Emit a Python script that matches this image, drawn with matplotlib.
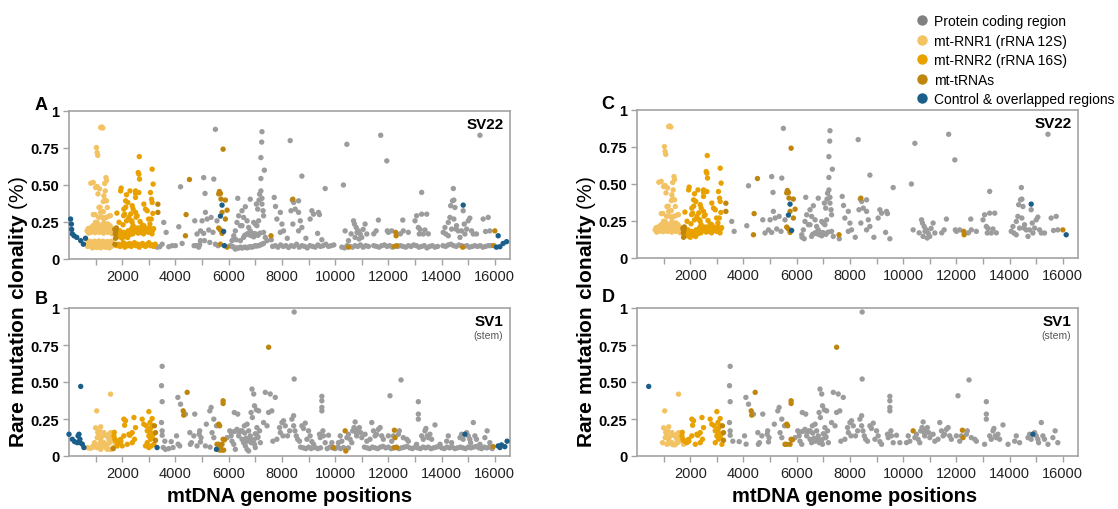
import matplotlib
matplotlib.use('Agg')
import matplotlib.pyplot as plt
from matplotlib.lines import Line2D

plt.rcParams['font.family'] = ['Liberation Sans', 'DejaVu Sans']
plt.rcParams['mathtext.fontset'] = 'custom'
plt.rcParams['mathtext.rm'] = 'Liberation Sans'
plt.rcParams['mathtext.bf'] = 'Liberation Sans:bold'

# ---------------- data ----------------
CATEGORIES = ['Protein coding region', 'mt-RNR1 (rRNA 12S)', 'mt-RNR2 (rRNA 16S)',
              'mt-tRNAs', 'Control & overlapped regions']
COLORS = ['#9c9c9c', '#F3C262', '#E9A100', '#BF850C', '#1B5E8A']

GENOME_LENGTH = 16569
C_MIN_CLONALITY = 0.128   # panel C shows SV22 mutations above this clonality
D_MIN_CLONALITY = 0.07    # panel D shows SV1 mutations above this clonality
C_X_RANGE = (640, 16300)
D_X_RANGE = (430, 16300)

# ---- SV22 (panel A) ----
A_ctrl_x = [60, 90, 100, 125, 190, 290, 440, 540, 620, 5690, 5750, 5810, 5840, 14810, 16125, 16060, 16190, 16310, 16440]
A_ctrl_y = [0.27, 0.236, 0.20, 0.17, 0.157, 0.146, 0.124, 0.10, 0.14, 0.29, 0.364, 0.186, 0.09, 0.364, 0.157, 0.08, 0.083, 0.105, 0.117]

A_rnr1_x = [1190, 1230, 1270, 1030, 1055, 1080, 820, 910, 1000, 1054, 1148, 1090,
            1390, 1410, 1340, 1360, 1310, 1288, 1347, 1410, 913, 1125, 1171, 1190, 1288, 1440,
            1112, 1250, 1375, 1405, 1500, 1557, 995, 1060, 1171, 1310, 1464, 975,
            680, 720, 760, 800, 840, 880, 920, 960, 1000, 1040, 1080, 1120, 1160, 1200, 1240, 1280,
            1320, 1360, 1400, 1440, 1480, 1520, 1560, 1600, 1640,
            740, 820, 900, 980, 1060, 1140, 1220, 1300, 1380, 1460, 1540, 1620,
            660, 700, 740, 780, 820, 860, 900, 940, 980, 1020, 1060, 1100, 1140, 1180, 1220, 1260,
            1300, 1340, 1380, 1420, 1460, 1500, 1540, 1580, 1620, 1660,
            720, 800, 880, 960, 1040, 1120, 1200, 1280, 1360, 1440, 1520, 1600]
A_rnr1_y = [0.888, 0.892, 0.885, 0.753, 0.72, 0.70, 0.512, 0.517, 0.483, 0.49, 0.474, 0.44,
            0.55, 0.53, 0.51, 0.46, 0.427, 0.388, 0.40, 0.393, 0.30, 0.348, 0.35, 0.315, 0.32, 0.348,
            0.282, 0.28, 0.28, 0.282, 0.29, 0.293, 0.248, 0.247, 0.226, 0.247, 0.237, 0.30,
            0.19, 0.205, 0.195, 0.21, 0.20, 0.215, 0.19, 0.205, 0.21, 0.195, 0.22, 0.205, 0.19, 0.215, 0.20, 0.21,
            0.195, 0.22, 0.205, 0.19, 0.21, 0.20, 0.195, 0.21, 0.19,
            0.175, 0.18, 0.225, 0.178, 0.23, 0.18, 0.228, 0.175, 0.232, 0.18, 0.225, 0.17,
            0.10, 0.085, 0.11, 0.09, 0.105, 0.08, 0.115, 0.095, 0.085, 0.11, 0.09, 0.10, 0.08, 0.115, 0.095, 0.085,
            0.105, 0.09, 0.11, 0.08, 0.10, 0.09, 0.115, 0.085, 0.10, 0.09,
            0.12, 0.118, 0.075, 0.12, 0.078, 0.122, 0.076, 0.12, 0.08, 0.118, 0.075, 0.12]

A_rnr2_x = [1960, 1940, 2160, 2290, 2125, 2210, 2060, 2090, 2250, 2160, 2030, 1910, 1975, 2375, 2500,
            2500, 2500, 2600, 2625, 2650, 2640, 2625, 2410, 2500, 2560, 2350, 2410, 2810, 2875, 2940,
            3060, 3125, 3160, 3100, 3125, 3150, 3090, 3040, 2810,
            1800, 1880, 2050, 2130, 2320, 2370, 2520, 2670, 2750, 2990,
            1820, 1900, 1980, 2060, 2140, 2220, 2300, 2340, 2380, 2420, 2460, 2500, 2540, 2580, 2620,
            2660, 2700, 2740, 2780, 2820, 2860, 2900, 2940, 2980, 3020, 3060, 3100, 3140, 3180,
            2000, 2100, 2200, 2300, 2400, 2600, 2800, 3000, 3120,
            1800, 1860, 1920, 1980, 2040, 2100, 2160, 2220, 2280, 2340, 2400, 2460, 2520, 2580, 2640,
            2700, 2760, 2820, 2880, 2940, 3000, 3060, 3120, 3180, 3240]
A_rnr2_y = [0.479, 0.46, 0.434, 0.46, 0.393, 0.382, 0.337, 0.303, 0.281, 0.258, 0.231, 0.191, 0.157, 0.36, 0.46,
            0.443, 0.416, 0.584, 0.573, 0.54, 0.692, 0.449, 0.337, 0.315, 0.292, 0.258, 0.225, 0.371, 0.337, 0.326,
            0.449, 0.607, 0.506, 0.404, 0.382, 0.308, 0.27, 0.236, 0.225,
            0.31, 0.248, 0.293, 0.35, 0.305, 0.248, 0.282, 0.253, 0.23, 0.27,
            0.16, 0.15, 0.17, 0.18, 0.16, 0.19, 0.185, 0.2, 0.21, 0.19, 0.205, 0.2, 0.185, 0.21, 0.195,
            0.2, 0.18, 0.215, 0.19, 0.2, 0.21, 0.195, 0.185, 0.2, 0.21, 0.19, 0.2, 0.195, 0.205,
            0.14, 0.155, 0.145, 0.165, 0.17, 0.175, 0.17, 0.18, 0.17,
            0.09, 0.1, 0.085, 0.095, 0.11, 0.08, 0.1, 0.09, 0.105, 0.085, 0.095, 0.11, 0.09, 0.1, 0.08,
            0.095, 0.105, 0.09, 0.085, 0.1, 0.11, 0.09, 0.095, 0.085, 0.1]

A_trna_x = [1720, 1740, 1760, 1780, 1725, 1750, 3340, 3340, 4375, 4400, 4525, 5650, 5690, 5625, 5710,
            5750, 5625, 5690, 5750, 5875, 5940, 5875, 5790, 5940, 5690, 7590, 8410, 10500, 12275, 12290,
            12310, 12225, 14790, 16000, 15960]
A_trna_y = [0.2, 0.17, 0.19, 0.21, 0.10, 0.14, 0.37, 0.315, 0.157, 0.30, 0.537, 0.456, 0.443, 0.44, 0.405,
            0.315, 0.209, 0.196, 0.173, 0.398, 0.33, 0.27, 0.742, 0.08, 0.10, 0.157, 0.404, 0.08, 0.18, 0.157,
            0.09, 0.085, 0.08, 0.19, 0.09]

A_prot_x = [3560, 3650, 4125, 4190, 4250, 4725, 4810, 4940, 5000, 5060, 5110, 5125, 5190, 5250, 5290,
            5340, 5440, 5500, 5560, 5410, 5060, 5090, 4940, 3500,
            6125, 6190, 6250, 6310, 6375, 6340, 6440, 6500, 6625, 6560, 6690, 6750, 6810, 6875, 6940,
            6810, 6940, 7000, 7060, 7125, 7040, 7090, 7140, 7160, 7210, 7250, 7250, 7290, 7310, 7310,
            7375, 7440, 7210, 7210, 7240, 7250, 7340, 6690, 6560, 6440, 6500, 6200, 6280, 6600, 6720,
            6900, 7000, 6760, 6840, 6960, 7040, 7100, 7180,
            7710, 7760, 7810, 7940, 8000, 7940, 8060, 8310, 8390, 8440, 8500, 8410, 8340, 8625, 8625,
            8690, 8750, 8625, 8750, 9125, 9190, 9060, 9375, 9410, 9340, 9625, 7600, 8200, 8900, 9500,
            10310, 10440, 10375, 10690, 10725, 10790, 10875, 10940, 11000, 11125, 11190, 10500, 10750,
            10900, 10600, 10820, 11050,
            11540, 11625, 11710, 11940, 11960, 12000, 12125, 12540, 12560, 12750, 11450, 12450,
            13000, 13060, 13125, 13190, 13160, 13250, 13250, 13375, 13440, 13310, 14125, 14160, 14250,
            14310, 14340, 14410, 14460, 14440, 14500, 14460, 14540, 14560, 14625, 14690, 14750, 14810,
            14850, 14875, 14940, 15000, 15060, 15125, 15190, 15440, 15560, 15650, 15750, 15810, 15310,
            14250, 14375, 14060, 13500,
            3310, 3410, 3750, 3875, 4000, 4700, 4790, 4875, 4910, 5500, 5600,
            6060, 6130, 6190, 6250, 6310, 6375, 6440, 6500, 6560, 6625, 6690, 6750, 6810, 6875, 6940,
            7000, 7060, 7125, 7190, 7250, 7310,
            7650, 7750, 7850, 7950, 8050, 8150, 8250, 8350, 8450, 8550, 8650, 8750, 8850, 8950, 9050,
            9150, 9250, 9350, 9450, 9550, 9650, 9750, 9850, 9950,
            10250, 10350, 10450, 10550, 10650, 10750, 10850, 10950, 11050, 11150, 11250,
            11450, 11550, 11650, 11750, 11850, 11950, 12050, 12150, 12350, 12450, 12550, 12650, 12750,
            12850, 12950, 13050, 13150, 13250, 13350, 13450, 13550, 13650, 13750, 13850,
            14050, 14150, 14250, 14350, 14450, 14550, 14650, 14750, 14850, 14950, 15050, 15150, 15250,
            15350, 15450, 15550, 15650, 15750, 15850]
A_prot_y = [0.247, 0.18, 0.218, 0.488, 0.105, 0.258, 0.169, 0.19, 0.258, 0.55, 0.443, 0.315, 0.27, 0.196, 0.112,
            0.281, 0.54, 0.876, 0.258, 0.18, 0.173, 0.124, 0.124, 0.10,
            0.124, 0.157, 0.19, 0.247, 0.292, 0.41, 0.225, 0.326, 0.353, 0.281, 0.258, 0.213, 0.19, 0.169, 0.15,
            0.404, 0.247, 0.236, 0.225, 0.258, 0.371, 0.337, 0.398, 0.438, 0.46, 0.41, 0.371, 0.326, 0.292, 0.18,
            0.146, 0.124, 0.544, 0.685, 0.79, 0.86, 0.60, 0.169, 0.146, 0.124, 0.225, 0.14, 0.13, 0.16, 0.17,
            0.16, 0.17, 0.165, 0.158, 0.172, 0.165, 0.16, 0.175,
            0.416, 0.355, 0.27, 0.315, 0.236, 0.18, 0.19, 0.80, 0.398, 0.382, 0.337, 0.236, 0.326, 0.393, 0.315,
            0.258, 0.213, 0.19, 0.56, 0.326, 0.303, 0.27, 0.315, 0.30, 0.173, 0.476, 0.13, 0.14, 0.14, 0.13,
            0.50, 0.775, 0.19, 0.258, 0.236, 0.213, 0.19, 0.169, 0.146, 0.236, 0.169, 0.124, 0.146,
            0.135, 0.17, 0.18, 0.2,
            0.19, 0.263, 0.836, 0.663, 0.19, 0.18, 0.19, 0.263, 0.19, 0.18, 0.17, 0.17,
            0.258, 0.292, 0.213, 0.20, 0.169, 0.45, 0.303, 0.196, 0.303, 0.169, 0.213, 0.169, 0.247,
            0.281, 0.36, 0.393, 0.398, 0.476, 0.348, 0.27, 0.202, 0.225, 0.19, 0.146, 0.19, 0.326,
            0.236, 0.169, 0.202, 0.258, 0.276, 0.19, 0.169, 0.836, 0.27, 0.186, 0.281, 0.19, 0.169,
            0.157, 0.202, 0.18, 0.17,
            0.08, 0.083, 0.083, 0.09, 0.09, 0.09, 0.09, 0.08, 0.097, 0.10, 0.09,
            0.09, 0.085, 0.08, 0.067, 0.075, 0.074, 0.08, 0.074, 0.078, 0.08, 0.075, 0.08, 0.083, 0.08, 0.085,
            0.09, 0.088, 0.09, 0.095, 0.10, 0.105,
            0.085, 0.09, 0.08, 0.095, 0.085, 0.09, 0.078, 0.09, 0.085, 0.1, 0.08, 0.09, 0.085, 0.075, 0.09,
            0.085, 0.08, 0.095, 0.085, 0.09, 0.1, 0.085, 0.09, 0.095,
            0.08, 0.075, 0.09, 0.085, 0.08, 0.09, 0.085, 0.095, 0.08, 0.09, 0.085,
            0.09, 0.085, 0.08, 0.09, 0.095, 0.085, 0.09, 0.08, 0.085, 0.09, 0.085, 0.08, 0.09,
            0.085, 0.095, 0.09, 0.08, 0.085, 0.09, 0.075, 0.085, 0.09, 0.08, 0.085,
            0.09, 0.085, 0.095, 0.1, 0.09, 0.085, 0.095, 0.09, 0.085, 0.09, 0.08, 0.085, 0.09,
            0.085, 0.09, 0.08, 0.085, 0.09, 0.09]

# control-region points kept in the filtered SV22 view (panel C)
C_ctrl_x = [5690, 5750, 5810, 14810, 16125]
C_ctrl_y = [0.29, 0.364, 0.186, 0.364, 0.157]

# ---- SV1 stem (panel B) ----
B_ctrl_x = [0, 125, 210, 310, 340, 375, 410, 420, 500, 560, 440, 3310, 5540, 14875, 16125, 16190, 16250, 16375, 16460]
B_ctrl_y = [0.147, 0.113, 0.097, 0.09, 0.136, 0.147, 0.113, 0.09, 0.08, 0.057, 0.47, 0.057, 0.045, 0.147, 0.068, 0.057, 0.075, 0.063, 0.10]

B_rnr1_x = [690, 790, 875, 1040, 1190, 1150, 1060, 960, 910, 1560, 1310, 1410, 1500, 1250, 1190,
            1125, 1250, 1375, 1440, 1560, 1660, 1750, 1690, 1625, 1560, 1500, 1310, 1040, 1190,
            1000, 1080, 1120, 1200, 1280, 1340, 1400, 1450, 1520, 1600, 1230, 1350]
B_rnr1_y = [0.057, 0.052, 0.057, 0.305, 0.197, 0.17, 0.124, 0.09, 0.068, 0.418, 0.158, 0.136, 0.113, 0.136, 0.113,
            0.079, 0.068, 0.057, 0.045, 0.045, 0.057, 0.079, 0.10, 0.124, 0.158, 0.147, 0.09, 0.057, 0.045,
            0.19, 0.16, 0.14, 0.10, 0.09, 0.08, 0.075, 0.08, 0.09, 0.11, 0.085, 0.078]

B_rnr2_x = [1810, 1875, 1940, 2060, 2090, 2060, 2125, 2250, 2375, 2440, 2500, 2460, 2375, 2190, 2000,
            1690, 1725, 1790, 2750, 2810, 2900, 3000, 2940, 3000, 3060, 3125, 3125, 3060, 3160, 2940,
            3000, 3090, 3190, 2875, 3040, 3060, 3125,
            1700, 1760, 1850, 1900, 1950, 2280, 2300]
B_rnr2_y = [0.068, 0.09, 0.113, 0.136, 0.208, 0.249, 0.238, 0.147, 0.158, 0.26, 0.192, 0.113, 0.09, 0.079, 0.068,
            0.136, 0.113, 0.10, 0.249, 0.215, 0.204, 0.30, 0.17, 0.136, 0.113, 0.253, 0.204, 0.186, 0.147, 0.09,
            0.057, 0.068, 0.079, 0.068, 0.226, 0.158, 0.124,
            0.16, 0.105, 0.1, 0.105, 0.1, 0.14, 0.145]

B_trna_x = [1660, 3210, 3250, 4290, 4310, 4440, 5625, 5660, 5790, 5790, 5560, 5625, 5690, 5750, 5790,
            5840, 5660, 5750, 5810, 7500, 9940, 10375, 10400, 12225, 12250, 12225, 12310, 15940, 3250]
B_trna_y = [0.05, 0.204, 0.158, 0.305, 0.276, 0.43, 0.215, 0.204, 0.373, 0.355, 0.079, 0.079, 0.068, 0.079, 0.113,
            0.109, 0.04, 0.04, 0.04, 0.735, 0.057, 0.17, 0.034, 0.174, 0.124, 0.057, 0.057, 0.063, 0.106]

B_prot_x = [3500, 3475, 3500, 3475, 3500, 3500, 3840, 4040, 4090, 4190, 4375, 4540, 4560, 4690, 4725,
            4890, 4910, 4960, 4940, 5160, 5290, 5340, 5375, 5440, 5540, 5440, 3600, 4100, 4600,
            5940, 6040, 6090, 6125, 6190, 6210, 6310, 6340, 6440, 6375, 6500, 6560, 6625, 6590, 6690,
            6750, 6810, 6840, 6875, 6940, 6890, 6910, 6970, 7040, 7060, 7090, 6970, 7040, 7125, 7160,
            7190, 7310, 7375, 7440, 7500, 7560, 7620, 7660, 7750, 7810, 7910, 7940, 6100, 6200, 6300,
            6400, 6500, 6600, 6650, 6700, 6800, 6850, 6950, 7000, 7100,
            8000, 8060, 8125, 8040, 8210, 8290, 8375, 8440, 8460, 8460, 8440, 8490, 8540, 8590, 8660,
            8750, 8810, 8875, 8940, 9000, 9060, 9125, 9190, 9410, 9440, 9500, 9500, 9500, 9500, 9540,
            9560, 9625, 9750, 9875, 10125, 10190, 10250,
            10440, 10500, 10560, 10625, 10660, 10710, 10750, 10790, 10810, 10850, 10910, 10960, 11000,
            11125, 11190, 11310, 11375, 11440, 11500, 11560, 11625, 11690, 11750, 11810, 12000, 12060,
            12125, 12190, 12375, 12410, 12475, 12560, 12690, 12750, 13060, 13125, 13125, 13125, 13250,
            13310, 13375, 13410, 13460, 13500, 13560, 13625, 13750, 13940, 14190, 14250, 14375, 14690,
            14750, 14810, 14940, 15000, 15060, 15090, 15190, 15250, 15310, 15440, 15625, 15710, 15810,
            3540, 3625, 3750, 3910, 4160, 4810, 5125, 5300,
            6250, 6690, 6750, 7000,
            8700, 8800, 8900, 9000, 9100, 9250, 9350, 9450, 9700, 9800, 9900, 10000, 10100, 10200, 10310,
            10400, 10500,
            11100, 11200, 11300, 11400, 11500, 11600, 11700, 11800, 11900, 12000, 12100, 12200, 12300,
            12400, 12500, 12600, 12700, 12800, 12900, 13000, 13100, 13200, 13300, 13400, 13500, 13600,
            13700, 13800, 13900, 14000, 14100, 14200, 14300, 14400, 14500, 14600, 14700, 14800, 14900,
            15000, 15100, 15200, 15300, 15400, 15500, 15600, 15700, 15800, 15900]
B_prot_y = [0.606, 0.475, 0.367, 0.226, 0.17, 0.14, 0.097, 0.136, 0.396, 0.35, 0.283, 0.158, 0.079, 0.136, 0.283,
            0.147, 0.17, 0.124, 0.095, 0.215, 0.305, 0.328, 0.158, 0.249, 0.204, 0.124, 0.1, 0.08, 0.09,
            0.124, 0.17, 0.136, 0.10, 0.079, 0.294, 0.18, 0.283, 0.17, 0.136, 0.113, 0.09, 0.068, 0.204, 0.215,
            0.17, 0.136, 0.294, 0.452, 0.419, 0.26, 0.10, 0.079, 0.147, 0.192, 0.124, 0.339, 0.312, 0.305, 0.17,
            0.09, 0.226, 0.43, 0.204, 0.294, 0.419, 0.305, 0.10, 0.396, 0.113, 0.192, 0.158, 0.16, 0.165, 0.17,
            0.16, 0.17, 0.155, 0.12, 0.1, 0.12, 0.09, 0.11, 0.15, 0.13,
            0.226, 0.238, 0.204, 0.136, 0.136, 0.17, 0.249, 0.272, 0.973, 0.52, 0.204, 0.17, 0.136, 0.113, 0.10,
            0.204, 0.186, 0.222, 0.113, 0.17, 0.136, 0.097, 0.079, 0.147, 0.124, 0.403, 0.373, 0.328, 0.305, 0.17,
            0.136, 0.09, 0.14, 0.09, 0.09, 0.136, 0.10,
            0.124, 0.147, 0.113, 0.09, 0.17, 0.192, 0.23, 0.158, 0.136, 0.18, 0.192, 0.158, 0.124,
            0.147, 0.10, 0.113, 0.226, 0.17, 0.136, 0.147, 0.18, 0.192, 0.136, 0.113, 0.136, 0.407,
            0.10, 0.136, 0.147, 0.17, 0.514, 0.124, 0.113, 0.10, 0.079, 0.249, 0.283, 0.367, 0.136,
            0.113, 0.17, 0.186, 0.136, 0.124, 0.147, 0.113, 0.21, 0.079, 0.10, 0.136, 0.09, 0.124,
            0.147, 0.113, 0.158, 0.136, 0.113, 0.09, 0.226, 0.136, 0.113, 0.079, 0.124, 0.17, 0.09,
            0.057, 0.045, 0.05, 0.057, 0.068, 0.068, 0.068, 0.06,
            0.045, 0.045, 0.034, 0.057,
            0.06, 0.055, 0.05, 0.06, 0.05, 0.057, 0.05, 0.055, 0.05, 0.06, 0.055, 0.05, 0.06, 0.05, 0.057,
            0.05, 0.055,
            0.06, 0.055, 0.05, 0.06, 0.055, 0.05, 0.06, 0.065, 0.055, 0.06, 0.05, 0.055, 0.06,
            0.05, 0.055, 0.06, 0.065, 0.055, 0.05, 0.06, 0.055, 0.05, 0.06, 0.055, 0.06, 0.05,
            0.055, 0.06, 0.065, 0.055, 0.05, 0.06, 0.055, 0.06, 0.05, 0.055, 0.06, 0.055, 0.05,
            0.06, 0.055, 0.06, 0.065, 0.055, 0.05, 0.06, 0.055, 0.06, 0.05]

# control-region points kept in the filtered SV1 view (panel D)
D_ctrl_x = [440, 14875]
D_ctrl_y = [0.47, 0.147]

A_SERIES = [(A_prot_x, A_prot_y), (A_rnr1_x, A_rnr1_y), (A_rnr2_x, A_rnr2_y),
            (A_trna_x, A_trna_y), (A_ctrl_x, A_ctrl_y)]
B_SERIES = [(B_prot_x, B_prot_y), (B_rnr1_x, B_rnr1_y), (B_rnr2_x, B_rnr2_y),
            (B_trna_x, B_trna_y), (B_ctrl_x, B_ctrl_y)]

X_TICKS = [1000, 2000, 3000, 4000, 5000, 6000, 7000, 8000, 9000, 10000, 11000, 12000,
           13000, 14000, 15000, 16000]
Y_TICKS = [0, 0.25, 0.5, 0.75, 1]
Y_TICK_LABELS = ['0', '0.25', '0.50', '0.75', '1']

# ---------------- figure ----------------
W, H = 1118, 510
fig = plt.figure(figsize=(W / 100, H / 100), dpi=100)


def ax_at(l, t, r, b):
    return fig.add_axes([l / W, 1 - b / H, (r - l) / W, (b - t) / H])


SPINE = '#a3a3a3'


def draw(ax, series, min_y=None, xr=None, ctrl=None, sample='', sub=None):
    for i, ((xs, ys), col) in enumerate(zip(series, COLORS)):
        if ctrl is not None and i == 4:
            px, py = list(ctrl[0]), list(ctrl[1])
        else:
            px, py = [], []
            for x, y in zip(xs, ys, strict=True):
                if min_y is not None and y < min_y:
                    continue
                if xr is not None and not (xr[0] <= x <= xr[1]):
                    continue
                px.append(x)
                py.append(y)
        ax.scatter(px, py, s=15, color=col, edgecolors='none', zorder=3, clip_on=False)
    ax.set_xlim(0, GENOME_LENGTH)
    ax.set_ylim(0, 1)
    ax.set_xticks(X_TICKS)
    ax.set_xticklabels([str(t) if t % 2000 == 0 else '' for t in X_TICKS],
                       fontsize=10.5, color='#222222')
    ax.set_yticks(Y_TICKS)
    ax.set_yticklabels(Y_TICK_LABELS, fontsize=10.5, fontweight='bold')
    for sp in ax.spines.values():
        sp.set_color(SPINE)
        sp.set_linewidth(1.2)
    ax.tick_params(axis='both', color=SPINE, length=4, width=1, direction='out', pad=3)
    ax.text(0.985, 0.915, sample, transform=ax.transAxes, ha='right', va='center',
            fontsize=11, fontweight='bold')
    if sub:
        ax.text(0.985, 0.82, sub, transform=ax.transAxes, ha='right', va='center',
                fontsize=7.5, color='#555555')


axA = ax_at(69, 112, 510, 260)
axB = ax_at(69, 309, 510, 457)
axC = ax_at(637, 111, 1078, 259)
axD = ax_at(637, 309, 1078, 457)

draw(axA, A_SERIES, sample='SV22')
draw(axB, B_SERIES, sample='SV1', sub='(stem)')
draw(axC, A_SERIES, min_y=C_MIN_CLONALITY, xr=C_X_RANGE, ctrl=(C_ctrl_x, C_ctrl_y), sample='SV22')
draw(axD, B_SERIES, min_y=D_MIN_CLONALITY, xr=D_X_RANGE, ctrl=(D_ctrl_x, D_ctrl_y),
     sample='SV1', sub='(stem)')

for letter, (px, py) in zip('ABCD', [(41, 106), (41, 300), (608, 105), (608, 298)]):
    fig.text(px / W, 1 - py / H, letter, fontsize=13, fontweight='bold', ha='center', va='center')

for cx in (19, 586):
    fig.text(cx / W, 1 - 312 / H, r'$\bf{Rare\ mutation\ clonality}$ (%)', rotation=90,
             fontsize=15, ha='center', va='center')
for cx in (290, 855):
    fig.text(cx / W, 1 - 497 / H, 'mtDNA genome positions', fontsize=14.5,
             fontweight='bold', ha='center', va='center')

handles = [Line2D([], [], marker='o', linestyle='none', markersize=7.5,
                  markerfacecolor=c, markeredgecolor='none') for c in COLORS]
handles[0].set_markerfacecolor('#808080')
fig.legend(handles, CATEGORIES, loc='upper left', bbox_to_anchor=(916 / W, 1 - 15 / H),
           frameon=False, fontsize=10, handlelength=0.8, handletextpad=0.5,
           labelspacing=0.4, borderaxespad=0, borderpad=0)

fig.savefig('out.png', dpi=100)
